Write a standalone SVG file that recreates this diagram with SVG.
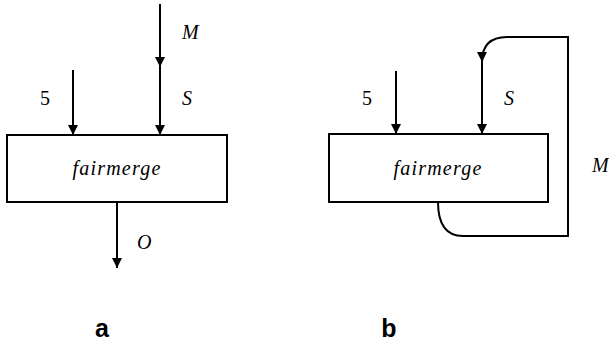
<svg xmlns="http://www.w3.org/2000/svg" width="609" height="341" viewBox="0 0 609 341">
  <style>
    .box { fill: #fff; stroke: #000; stroke-width: 2; }
    .wire { fill: none; stroke: #000; stroke-width: 2; }
    .lbl { font-family: "Liberation Serif", "Times New Roman", "DejaVu Serif", serif; font-style: italic; font-size: 20px; fill: #000; }
    .num { font-family: "Liberation Serif", "Times New Roman", "DejaVu Serif", serif; font-size: 20px; fill: #000; }
    .name { font-family: "Liberation Serif", "Times New Roman", "DejaVu Serif", serif; font-style: italic; font-size: 20px; letter-spacing: 1.2px; fill: #000; }
    .cap { font-family: "Liberation Sans", Arial, sans-serif; font-weight: bold; font-size: 25px; fill: #000; }
  </style>
  <defs>
    <marker id="head" viewBox="0 0 10 10" refX="10" refY="5" markerWidth="5" markerHeight="5" orient="auto" markerUnits="strokeWidth">
      <path d="M0,0 L10,5 L0,10 Z" fill="#000"/>
    </marker>
  </defs>

  <!-- (a) open network -->
  <g id="fairmerge-a">
    <rect class="box" x="7" y="135" width="220" height="67"/>
    <text class="name" x="117" y="175" text-anchor="middle">fairmerge</text>
  </g>
  <g id="connectors-a">
    <line class="wire" x1="73" y1="70" x2="73" y2="135" marker-end="url(#head)"/>
    <line class="wire" x1="160" y1="4" x2="160" y2="67" marker-end="url(#head)"/>
    <line class="wire" x1="160" y1="67" x2="160" y2="135" marker-end="url(#head)"/>
    <line class="wire" x1="117" y1="202" x2="117" y2="268" marker-end="url(#head)"/>
  </g>
  <g id="labels-a">
    <text class="lbl" x="182" y="39">M</text>
    <text class="lbl" x="182" y="105">S</text>
    <text class="num" x="40" y="105">5</text>
    <text class="lbl" x="137" y="249">O</text>
    <text class="cap" x="102" y="337" text-anchor="middle">a</text>
  </g>

  <!-- (b) feedback network -->
  <g id="fairmerge-b">
    <rect class="box" x="329" y="134" width="219" height="68"/>
    <text class="name" x="438" y="175" text-anchor="middle">fairmerge</text>
  </g>
  <g id="connectors-b">
    <line class="wire" x1="396" y1="71" x2="396" y2="134" marker-end="url(#head)"/>
    <path class="wire" d="M438,202 Q438,236 463,236 L568,236 L568,37 L507,37 Q482,37 482,62" marker-end="url(#head)"/>
    <line class="wire" x1="482" y1="62" x2="482" y2="134" marker-end="url(#head)"/>
  </g>
  <g id="labels-b">
    <text class="num" x="362" y="105">5</text>
    <text class="lbl" x="504" y="105">S</text>
    <text class="lbl" x="592" y="172">M</text>
    <text class="cap" x="389" y="337" text-anchor="middle">b</text>
  </g>
</svg>
